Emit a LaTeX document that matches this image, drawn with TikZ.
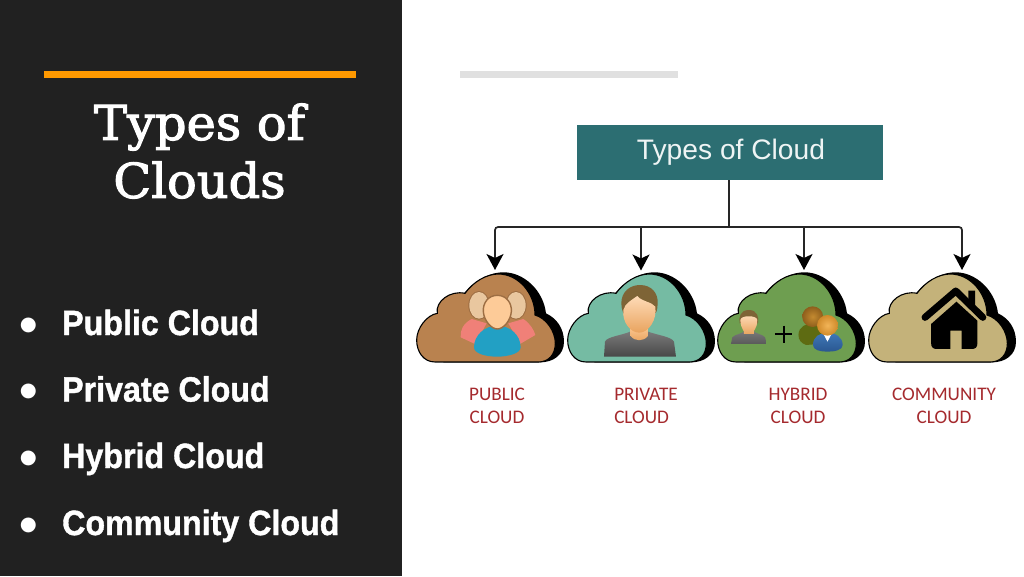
\documentclass[tikz,border=0pt]{standalone}
\usepackage{fontspec}
\setmainfont{Liberation Sans}
\newfontfamily\titlefont[FakeBold=2.2]{DejaVu Serif}
\newfontfamily\listfont[FakeBold=1.2]{Liberation Sans Bold}
\newfontfamily\capfont{Carlito}
\newfontfamily\symfont{DejaVu Sans}
\usetikzlibrary{arrows.meta}
\definecolor{panel}{HTML}{212121}
\definecolor{accent}{HTML}{FF9900}
\definecolor{rulegray}{HTML}{E0E0E0}
\definecolor{boxteal}{HTML}{2C6E72}
\definecolor{capred}{HTML}{A52A2E}
\definecolor{cpublic}{HTML}{B9824F}
\definecolor{cprivate}{HTML}{75BBA3}
\definecolor{chybrid}{HTML}{6E9E50}
\definecolor{ccomm}{HTML}{C4B27A}
\definecolor{skin}{HTML}{FDCB98}
\definecolor{skindark}{HTML}{E9A45F}
\definecolor{hair}{HTML}{7E6436}
\definecolor{backhead}{HTML}{E9C79F}
\definecolor{pinkback}{HTML}{F08078}
\definecolor{bluebody}{HTML}{22A0C4}
\definecolor{shirttop}{HTML}{7A7A7A}
\definecolor{olive}{HTML}{5E6B12}
\definecolor{ballbrown}{HTML}{8E5E1C}
\definecolor{ballmid}{HTML}{C48A30}
\definecolor{ballorange}{HTML}{F2B458}
\definecolor{ballrim}{HTML}{D08A2A}
\definecolor{suittop}{HTML}{3F78B8}
\definecolor{suitbot}{HTML}{2A5790}
\tikzset{
  titletext/.style={text=white,font=\titlefont\fontsize{48}{58}\selectfont,align=center,inner sep=0pt,xscale=1.03},
  listtext/.style={text=white,font=\listfont\fontsize{35}{40}\selectfont,anchor=base west,inner sep=0pt,xscale=.92},
  bullettext/.style={text=white,font=\symfont\fontsize{19.5}{22}\selectfont,inner sep=0pt},
  caption/.style={text=capred,font=\capfont\fontsize{19.2}{23}\selectfont,align=center,inner sep=0pt},
  boxnode/.style={fill=boxteal,text=white!92!boxteal,minimum width=306pt,minimum height=55pt,inner sep=0pt,font=\fontsize{28.2}{30}\selectfont},
  connector/.style={line width=1.7pt,black!85},
  arrowline/.style={connector,-{Stealth[length=16pt,width=17pt,inset=4pt,black]}},
  zoomed/.style={x=.3333pt,y=-.3333pt},
}
\newcommand{\cloudshape}[2]{%
  \begin{scope}[shift={(#1,260)},zoomed]
    \fill[black] (390,307) .. controls (430,307) and (462,285) .. (462,245)
      .. controls (462,205) and (440,175) .. (408,160)
      .. controls (400,90) and (340,36) .. (280,37)
      .. controls (230,37) and (190,70) .. (165,96)
      -- (100,200) -- (100,307) -- cycle;
    \filldraw[fill=#2,draw=black,line width=1.1pt]
      (75,306) .. controls (40,306) and (20,275) .. (20,240)
      .. controls (20,205) and (50,165) .. (82,160)
      .. controls (75,125) and (120,90) .. (165,100)
      .. controls (190,65) and (230,42) .. (265,42)
      .. controls (325,42) and (375,100) .. (375,165)
      .. controls (410,175) and (436,215) .. (436,250)
      .. controls (436,285) and (415,306) .. (385,306) -- cycle;
  \end{scope}}
\begin{document}
\begin{tikzpicture}[x=1pt,y=-1pt]
\useasboundingbox (0,0) rectangle (1024,576);
\fill[white] (0,0) rectangle (1024,576);
\fill[panel] (0,0) rectangle (401.5,576);
\fill[accent] (44,71) rectangle (356,77.5);
\fill[rulegray] (460,71) rectangle (678,77.5);
\node[titletext] (title) at (199.5,151) {Types of\\Clouds};
\node[bullettext] (b1) at (28.5,325) {●};
\node[bullettext] (b2) at (28.5,391.5) {●};
\node[bullettext] (b3) at (28.5,458) {●};
\node[bullettext] (b4) at (28.5,525) {●};
\node[listtext] (l1) at (62,335) {Public Cloud};
\node[listtext] (l2) at (62,401.5) {Private Cloud};
\node[listtext] (l3) at (62,468) {Hybrid Cloud};
\node[listtext] (l4) at (62,535) {Community Cloud};
% clouds
\cloudshape{410}{cpublic}
\cloudshape{561}{cprivate}
\cloudshape{711}{chybrid}
\cloudshape{862}{ccomm}
% public icon
\begin{scope}[shift={(410,260)},zoomed]
  \fill[cpublic!85!black] (207,136) ellipse (32 and 43);
  \fill[cpublic!85!black] (318,136) ellipse (32 and 43);
  \fill[backhead] (207,136) ellipse (29 and 40);
  \fill[backhead] (318,136) ellipse (29 and 40);
  \fill[pinkback] (185,177) .. controls (160,190) and (150,210) .. (152,232) -- (195,252) -- (230,190) -- cycle;
  \fill[pinkback] (340,177) .. controls (360,190) and (372,210) .. (376,225) -- (330,252) -- (295,190) -- cycle;
  \fill[bluebody] (192,262) .. controls (192,225) and (225,197) .. (262,197)
     .. controls (300,197) and (332,225) .. (332,262)
     .. controls (332,280) and (295,290) .. (262,290) .. controls (225,290) and (192,280) .. (192,262) -- cycle;
  \filldraw[fill=skin,draw=cpublic!85!black,line width=1.4pt] (262,106)
     .. controls (290,106) and (306,130) .. (304,155)
     .. controls (302,182) and (280,207) .. (262,207)
     .. controls (244,207) and (222,182) .. (220,155)
     .. controls (218,130) and (234,106) .. (262,106) -- cycle;
\end{scope}
% private icon
\begin{scope}[shift={(410,260)},zoomed]
  \shade[top color=shirttop,bottom color=black!72] (582,290) -- (585,245)
     .. controls (590,230) and (640,225) .. (660,215) -- (715,215)
     .. controls (740,225) and (785,230) .. (792,245) -- (798,290) -- cycle;
  \shade[top color=skin,bottom color=skindark] (662,195) -- (662,228) .. controls (675,245) and (700,245) .. (714,228) -- (714,195) -- cycle;
  \fill[hair] (634,130) .. controls (634,95) and (660,75) .. (690,75)
     .. controls (725,75) and (745,100) .. (743,130)
     .. controls (743,150) and (738,160) .. (735,160) -- (640,160) .. controls (636,150) and (634,140) .. (634,130) -- cycle;
  \shade[top color=skin!70!white,bottom color=skindark] (640,150)
     .. controls (645,130) and (665,120) .. (682,108)
     .. controls (695,125) and (725,125) .. (736,140)
     .. controls (742,180) and (715,218) .. (688,218)
     .. controls (660,218) and (636,185) .. (640,150) -- cycle;
\end{scope}
% hybrid icon
\begin{scope}[shift={(710,260)},x=.3376pt,y=-.3333pt]
  \shade[top color=shirttop,bottom color=black!65] (62,252) -- (66,232)
     .. controls (75,222) and (95,222) .. (103,212) -- (128,212)
     .. controls (135,222) and (155,222) .. (163,232) -- (168,252) -- cycle;
  \shade[top color=skin,bottom color=skindark] (100,195) rectangle (130,222);
  \fill[hair] (115,150) .. controls (90,150) and (84,172) .. (88,190) -- (142,190) .. controls (146,172) and (140,150) .. (115,150) -- cycle;
  \shade[top color=skin!70!white,bottom color=skindark] (90,180) .. controls (90,165) and (140,165) .. (140,180)
     .. controls (140,205) and (127,222) .. (115,222) .. controls (103,222) and (90,205) .. (90,180) -- cycle;
  \draw[black,line width=2pt] (192,223) -- (244,223) (218,197) -- (218,250);
  \fill[olive] (262,225) .. controls (262,200) and (285,190) .. (305,190)
     .. controls (325,190) and (345,210) .. (345,235) -- (320,252) -- (285,255) .. controls (270,250) and (262,240) .. (262,225) -- cycle;
  \shade[inner color=ballmid,outer color=ballbrown] (304,170) circle (31);
  \shade[top color=suittop,bottom color=suitbot] (305,255) .. controls (305,230) and (325,218) .. (348,218)
     .. controls (372,218) and (393,232) .. (393,255)
     .. controls (393,270) and (370,275) .. (348,275) .. controls (326,275) and (305,270) .. (305,255) -- cycle;
  \fill[white] (336,222) -- (360,222) -- (348,245) -- cycle;
  \shade[inner color=ballorange,outer color=ballrim] (348,196) circle (31);
\end{scope}
% community icon
\begin{scope}[shift={(710,260)},x=.3376pt,y=-.3333pt]
  \fill[black] (655,192) -- (730,125) -- (792,182) -- (792,250)
    .. controls (792,262) and (786,267) .. (775,267) -- (745,267) -- (745,212) -- (712,212) -- (712,267) -- (672,267)
    .. controls (661,267) and (655,262) .. (655,250) -- cycle;
  \fill[black] (765,92) -- (785,92) -- (785,140) -- (765,125) -- cycle;
  \draw[black,line width=7pt,line cap=round,line join=round] (637,172) -- (728,93) -- (808,172);
\end{scope}
% header box and connectors
\node[boxnode] (hdr) at (730,152.5) {\hspace{2pt}Types of Cloud};
\coordinate (stem) at (729,180);
\coordinate (bus) at (729,227);
\coordinate (t1) at (495,270);
\coordinate (t2) at (641,270.5);
\coordinate (t3) at (804,270);
\coordinate (t4) at (962,270);
\draw[connector] (stem) -- (bus);
\draw[arrowline,rounded corners=3pt] (bus) -| (t1);
\draw[arrowline] (t2 |- bus) -- (t2);
\draw[arrowline] (t3 |- bus) -- (t3);
\draw[arrowline,rounded corners=3pt] (bus) -| (t4);
% captions
\node[caption] (c1) at (497,406) {PUBLIC\\CLOUD};
\node[caption,align=left] (c2) at (646,406) {PRIVATE\\CLOUD};
\node[caption] (c3) at (798,406) {HYBRID\\CLOUD};
\node[caption] (c4) at (944,406) {COMMUNITY\\CLOUD};
\end{tikzpicture}
\end{document}
